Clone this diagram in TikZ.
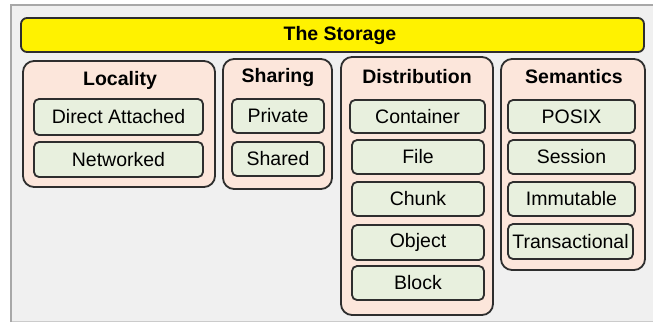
\documentclass[tikz,border=0pt]{standalone}
\usepackage{fontspec}
\setmainfont{Liberation Sans}
\definecolor{panelbg}{HTML}{F0F0F0}
\definecolor{panelborder}{HTML}{A8A8A8}
\definecolor{peach}{HTML}{FCE6DB}
\definecolor{leaf}{HTML}{E8F0DE}
\definecolor{edge}{HTML}{2E2E2E}
\tikzset{
  group/.style={draw=edge, line width=1.8pt, fill=peach, rounded corners=11pt, inner sep=0pt},
  item/.style={draw=edge, line width=1.8pt, fill=leaf, rounded corners=5pt, inner sep=0pt, font=\fontsize{19.5}{21}\selectfont},
  title/.style={inner sep=0pt, font=\fontsize{19.5}{21}\selectfont\bfseries},
  top/.style={draw=edge, line width=1.8pt, fill=yellow, rounded corners=6pt, inner sep=0pt},
}
\newcommand{\boxat}[7]{% style, name, x1, y1, x2, y2, text
  \node[#1, minimum width={(#5)-(#3)}, minimum height={(#6)-(#4)}] (#2) at ({((#3)+(#5))/2},{((#4)+(#6))/2}) {#7};}
\begin{document}
\begin{tikzpicture}[x=1pt, y=-1pt]
\useasboundingbox (0,0) rectangle (653,322);
\fill[white] (0,0) rectangle (653,322);
\fill[panelbg] (11,5) rectangle (653,322);
\draw[panelborder, line width=2pt] (11,322) -- (11,5) -- (653,5);
\draw[panelborder!60, line width=1pt] (12,321) -- (653,321);
% top bar
\boxat{top}{storage}{21}{18}{644}{52}{}
\node[title] (storagetitle) at (340,35) {The Storage};
% groups
\boxat{group}{locality}{23}{61}{215}{187}{}
\boxat{group}{sharing}{223}{59}{332}{189}{}
\boxat{group}{distribution}{341}{57}{493}{315}{}
\boxat{group}{semantics}{501}{59}{645}{270}{}
\node[title] (localitytitle) at (120,80) {Locality};
\node[title] (sharingtitle) at (278,77) {Sharing};
\node[title] (distributiontitle) at (417,77) {Distribution};
\node[title] (semanticstitle) at (574,77) {Semantics};
% items
\boxat{item}{direct}{34}{99}{203}{135}{Direct Attached}
\boxat{item}{networked}{34}{142}{203}{177}{Networked}
\boxat{item}{private}{232}{99}{324}{133}{Private}
\boxat{item}{shared}{232}{142}{324}{176}{Shared}
\boxat{item}{container}{350}{100}{485}{133}{Container}
\boxat{item}{file}{352}{140}{484}{174}{File}
\boxat{item}{chunk}{352}{182}{484}{216}{Chunk}
\boxat{item}{object}{352}{225}{484}{260}{Object}
\boxat{item}{block}{352}{266}{484}{300}{Block}
\boxat{item}{posix}{508}{100}{635}{133}{POSIX}
\boxat{item}{session}{508}{140}{635}{174}{Session}
\boxat{item}{immutable}{508}{182}{635}{216}{Immutable}
\boxat{item}{transactional}{508}{224}{633}{259}{Transactional}
\end{tikzpicture}
\end{document}
